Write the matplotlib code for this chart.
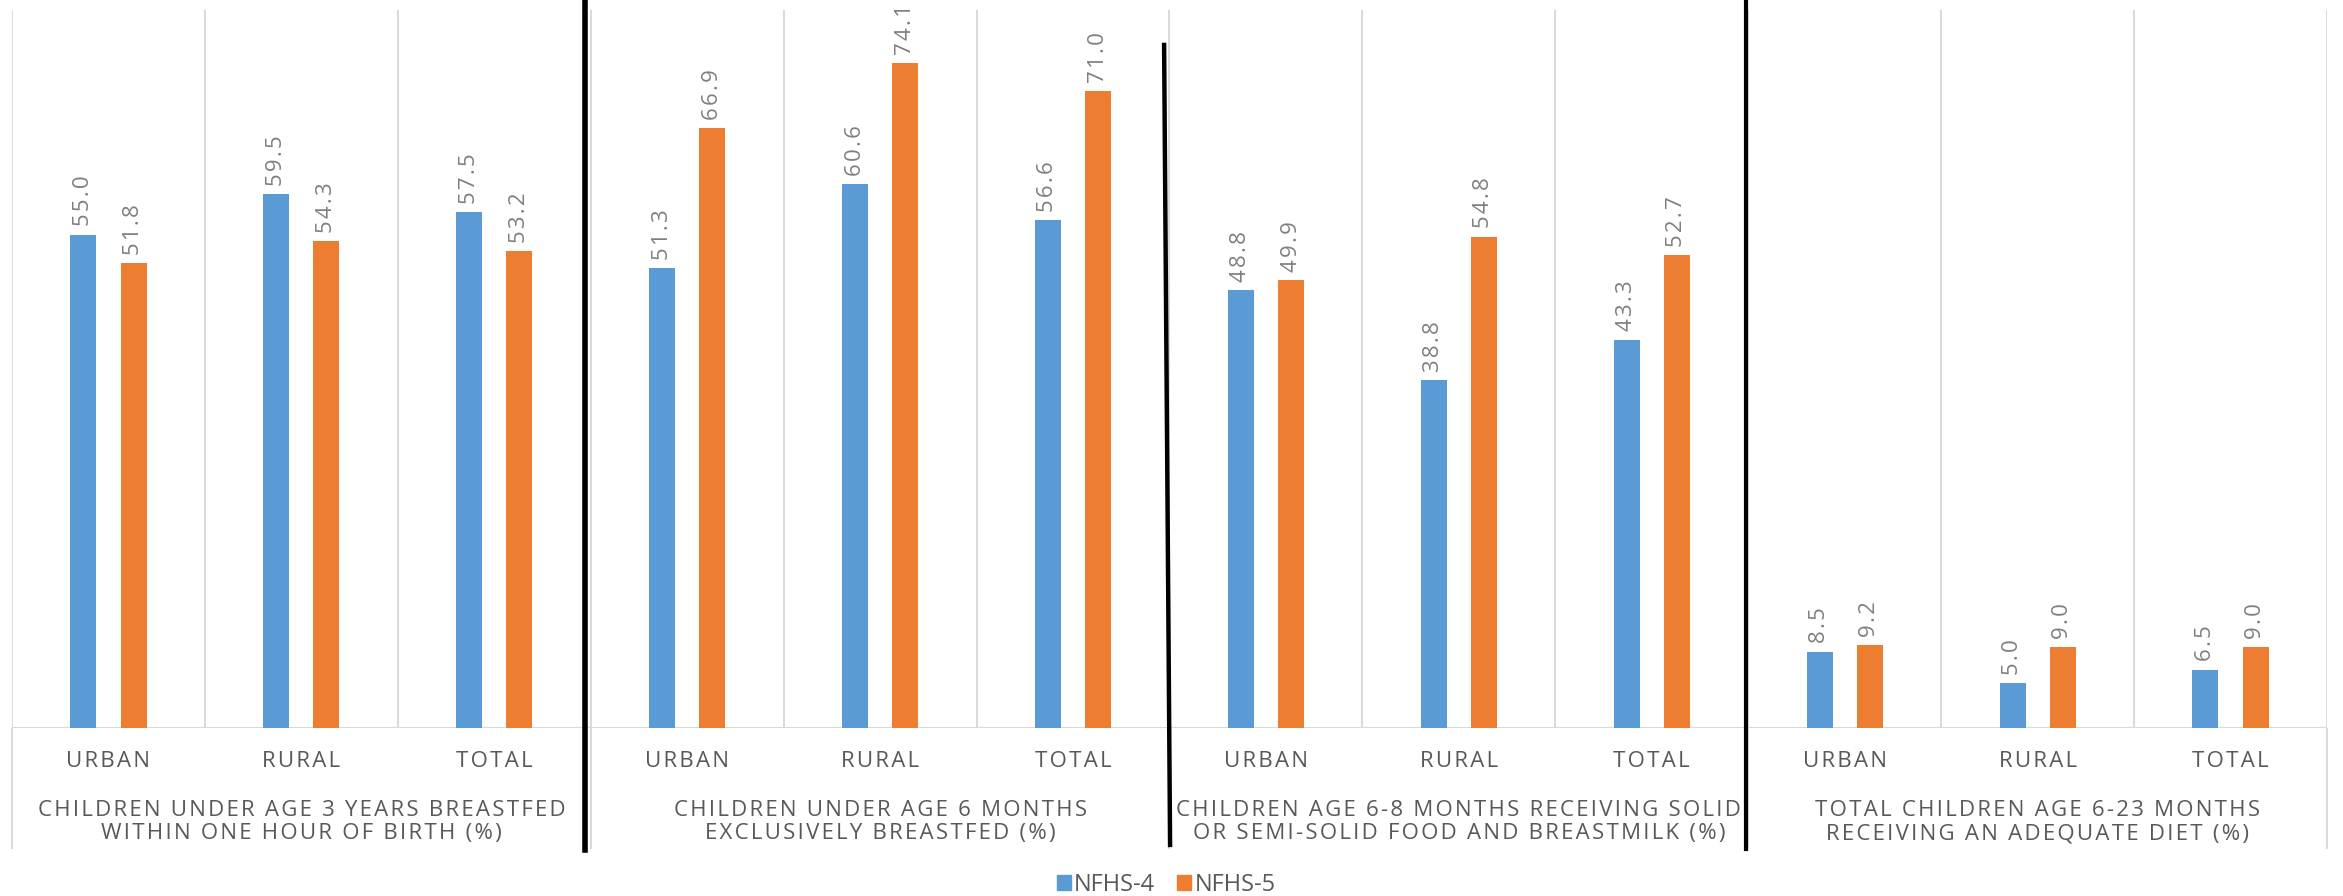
import numpy as np
import matplotlib
matplotlib.use("Agg")
import matplotlib.pyplot as plt
from matplotlib.patches import Patch

plt.rcParams['font.family'] = ['Open Sans', 'DejaVu Sans']

# Infant feeding indicators, NFHS-4 vs NFHS-5
groups = ["CHILDREN UNDER AGE 3 YEARS BREASTFED\nWITHIN ONE HOUR OF BIRTH (%)",
          "CHILDREN UNDER AGE 6 MONTHS\nEXCLUSIVELY BREASTFED (%)",
          "CHILDREN AGE 6-8 MONTHS RECEIVING SOLID\nOR SEMI-SOLID FOOD AND BREASTMILK (%)",
          "TOTAL CHILDREN AGE 6-23 MONTHS\nRECEIVING AN ADEQUATE DIET (%)"]
areas = ["URBAN", "RURAL", "TOTAL"]
nfhs4 = [55.0, 59.5, 57.5, 51.3, 60.6, 56.6, 48.8, 38.8, 43.3, 8.5, 5.0, 6.5]
nfhs5 = [51.8, 54.3, 53.2, 66.9, 74.1, 71.0, 49.9, 54.8, 52.7, 9.2, 9.0, 9.0]
series = ["NFHS-4", "NFHS-5"]

BLUE, ORANGE = "#5B9BD5", "#ED7D31"
GRID = "#d9d9d9"
TXT = "#595959"
VAL = "#7f7f7f"

def spaced(s, sp="\u200a"):
    # fake letter spacing
    return "\n".join(sp.join(line) for line in s.split("\n"))

W, H = 2343, 896
fig = plt.figure(figsize=(W/100, H/100), dpi=100)
ax = fig.add_axes([12/W, 1-728/H, 2315/W, 717.5/H])

x = np.arange(len(nfhs4))
bw = 0.135
b4 = ax.bar(x-0.13, nfhs4, bw, color=BLUE, zorder=3)
b5 = ax.bar(x+0.13, nfhs5, bw, color=ORANGE, zorder=3)
for bars in (b4, b5):
    for r in bars:
        ax.annotate(spaced(f"{r.get_height():.1f}"), (r.get_x()+r.get_width()/2, r.get_height()),
                    xytext=(0, 6), textcoords="offset points", rotation=90,
                    ha="center", va="bottom", fontsize=16, color=VAL)

ax.set_xlim(-0.5, len(x)-0.5)
ax.set_ylim(0, 80)
ax.axis("off")

xt = ax.get_xaxis_transform()
bounds = np.arange(-0.5, len(x))
ax.vlines(bounds, 0, 1, transform=xt, color=GRID, lw=1.4, zorder=1)
ax.axhline(0, color=GRID, lw=2.2, zorder=2)
gb = bounds[::3]
ax.vlines(gb, -0.169, 0, transform=xt, color=GRID, lw=1.4, clip_on=False)

# category labels, two levels
for i in x:
    ax.text(i, -0.046, spaced(areas[i % 3]), transform=xt, ha="center", va="center",
            fontsize=16, color=TXT)
for g, lab in enumerate(groups):
    ax.text(3*g+1, -0.131, spaced(lab), transform=xt, ha="center", va="center",
            fontsize=16, color=TXT, linespacing=1.15)

# hand-drawn black dividers between indicator groups
ax.plot([2.469, 2.469], [1.015, -0.17], transform=xt, color="black", lw=4, clip_on=False, zorder=5)
ax.plot([5.472, 5.503], [0.952, -0.163], transform=xt, color="black", lw=3.2, clip_on=False, zorder=5)
ax.plot([8.49, 8.49], [1.015, -0.169], transform=xt, color="black", lw=3, clip_on=False, zorder=5)

handles = [Patch(color=BLUE), Patch(color=ORANGE)]
fig.legend(handles, series, loc="center", bbox_to_anchor=(1166/W, 1-885/H), ncol=2,
           frameon=False, fontsize=17, handlelength=0.6, handleheight=0.6,
           handletextpad=0.15, columnspacing=0.9, labelcolor=TXT)

fig.savefig("out.png", dpi=100)
